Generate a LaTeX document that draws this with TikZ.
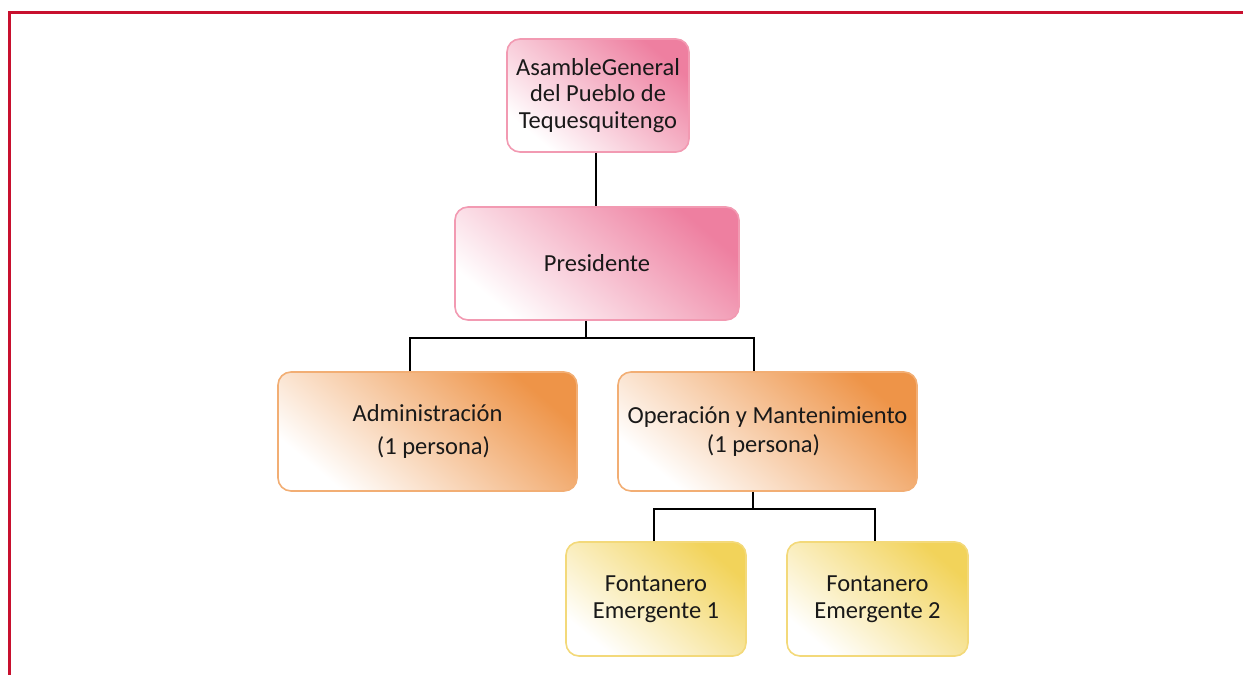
\documentclass[tikz,border=0pt]{standalone}
\usepackage{fontspec}
\setmainfont{Carlito}
\begin{document}
\begin{tikzpicture}[x=1pt,y=-1pt,
  box/.style={rounded corners=13pt, line width=1.6pt, align=center, inner sep=0pt,
    font=\fontsize{24.5}{26.5}\selectfont, text=black!90},
  pinkbox/.style={box, draw=pinkline, top color=pinkfill, bottom color=white, shading angle=-40},
  orangebox/.style={box, draw=orangeline, top color=orangefill, bottom color=white, shading angle=-40},
  yellowbox/.style={box, draw=yellowline, top color=yellowfill, bottom color=white, shading angle=-40},
  conn/.style={line width=2.2pt, black}
]
\definecolor{pinkline}{HTML}{F29AB2}
\definecolor{pinkfill}{HTML}{EE7FA0}
\definecolor{orangeline}{HTML}{F2AE74}
\definecolor{orangefill}{HTML}{EE9448}
\definecolor{yellowline}{HTML}{F3D97A}
\definecolor{yellowfill}{HTML}{F2D35A}
\definecolor{frame}{HTML}{C8102E}
\useasboundingbox (0,0) rectangle (1243,675);
\draw[frame, line width=2.5pt] (9.25,675) -- (9.25,12.25) -- (1243,12.25);

\node[pinkbox, minimum width=182pt, minimum height=113pt] (asam) at (598,95.5)
  {AsambleGeneral\\del Pueblo de\\Tequesquitengo};
\node[pinkbox, minimum width=284pt, minimum height=113pt] (pres) at (597,263.5) {Presidente};
\node[orangebox, minimum width=299pt, minimum height=119pt] (adm) at (427.5,431.5)
  {Administración\\[6pt]\hspace*{12pt}(1 persona)};
\node[orangebox, minimum width=299pt, minimum height=119pt] (ope) at (767.5,431.5)
  {Operación y Mantenimiento\\[3pt]\hspace*{-8pt}(1 persona)};
\node[yellowbox, minimum width=180pt, minimum height=114pt] (f1) at (656,599)
  {Fontanero\\Emergente 1};
\node[yellowbox, minimum width=181pt, minimum height=114pt] (f2) at (877.5,599)
  {Fontanero\\Emergente 2};

\coordinate (j1) at (586,338);
\coordinate (j2) at (753,509);
\draw[conn] (asam.south -| 596,0) -- (pres.north -| 596,0);
\draw[conn] (pres.south -| j1) -- (j1);
\draw[conn] (adm.north -| 410,0) -- (410,338) -- (754,338) -- (ope.north -| 754,0);
\draw[conn] (ope.south -| j2) -- (j2);
\draw[conn] (f1.north -| 654,0) -- (654,509) -- (875,509) -- (f2.north -| 875,0);
\end{tikzpicture}
\end{document}
